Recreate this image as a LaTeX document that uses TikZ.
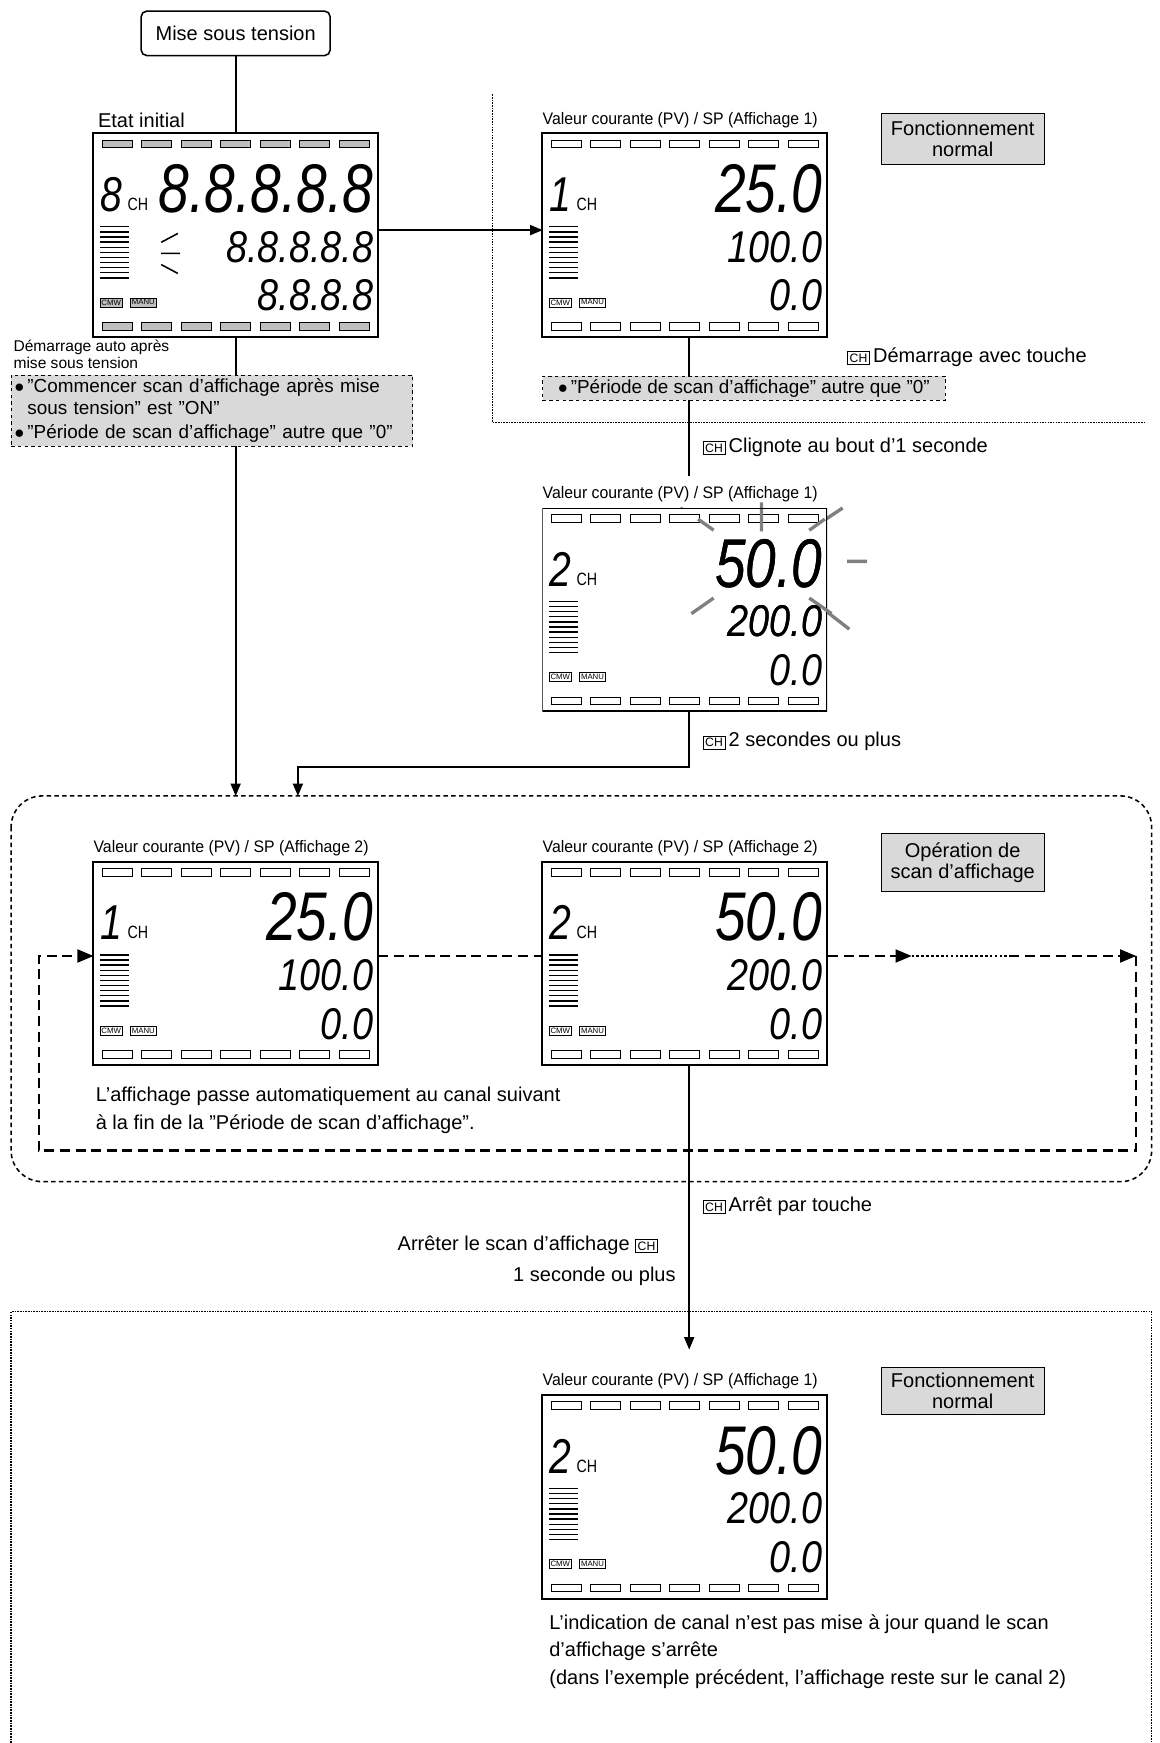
\documentclass[tikz,border=0pt]{standalone}
\usepackage{fontspec}
\setmainfont{Liberation Sans}[Ligatures=ResetAll]
\usetikzlibrary{calc,arrows}

\tikzset{
  lbl/.style={font=\fontsize{18}{21}\selectfont, inner sep=0pt},
  small lbl/.style={font=\fontsize{14}{15}\selectfont, inner sep=0pt},
  gray box/.style={draw, fill=gray!30, font=\fontsize{18}{19}\selectfont, align=center, inner sep=2pt},
  cond box/.style={draw, dashed, fill=gray!30, font=\fontsize{17}{20}\selectfont, align=left, inner sep=3pt},
  big digit/.style={font=\fontsize{62}{62}\selectfont\itshape, inner sep=0pt, xscale=0.8},
  mid digit/.style={font=\fontsize{40}{40}\selectfont\itshape, inner sep=0pt, xscale=0.85},
  tag/.style={draw, fill=#1, font=\fontsize{7}{8}\selectfont, inner sep=1.5pt},
  tag/.default=white,
  key/.style={draw, font=\fontsize{11}{12}\selectfont, inner sep=2pt},
  ray/.style={gray, line width=3pt},
  conn/.style={line width=1.6pt},
  loop/.style={line width=2.4pt, dash pattern=on 9pt off 5pt},
}

% LCD panel: x, y, channel, big, middle, small, tag fill
\newcommand\lcd[7]{%
  \begin{scope}[shift={(#1,#2)}]
    \draw[line width=1.8pt, fill=white] (0,0) rectangle (256,183);
    \foreach \i in {0,...,6} {
      \draw[fill=#7, line width=0.8pt] (8+\i*35.5,6) rectangle ++(27,7);
      \draw[fill=#7, line width=0.8pt] (8+\i*35.5,170) rectangle ++(27,7);
    }
    \foreach \j in {0,...,10} \draw[line width=1.2pt] (6,84+\j*4.6) -- ++(26,0);
    \node[big digit, font=\fontsize{44}{44}\selectfont\itshape] at (16,55) {#3};
    \node[font=\fontsize{16}{16}\selectfont, xscale=0.8] at (40,64) {CH};
    \node[big digit, anchor=east] at (252,50) {#4};
    \node[mid digit, anchor=east] at (252,102) {#5};
    \node[mid digit, anchor=east] at (252,146) {#6};
    \node[tag=#7] at (16,152) {CMW};
    \node[tag=#7] at (45,152) {MANU};
  \end{scope}}

\begin{document}
\begin{tikzpicture}[x=1pt,y=-1pt]
\useasboundingbox (0,0) rectangle (1043,1568);

% regions
\draw[dash pattern=on 4pt off 3pt, line width=1.4pt, rounded corners=28pt] (10,716) rectangle (1036,1063);
\draw[densely dotted, line width=1.4pt] (443,85) -- (443,380) -- (1030,380);
\draw[densely dotted, line width=1.4pt] (10,1568) -- (10,1180) -- (1036,1180) -- (1036,1568);

% start
\node[draw, rounded corners=5pt, line width=1.4pt, minimum width=170pt, minimum height=40pt, font=\fontsize{18}{20}\selectfont] (start) at (212,30) {Mise sous tension};

% connectors
\coordinate (init) at (212,120);
\coordinate (initB) at (212,303);
\draw[conn] (start.south) -- (init);
\draw[conn, -triangle 45] (340,207) -- (488,207);
\draw[conn, -triangle 45] (initB) -- (212,716);
\draw[conn] (620,303) -- (620,428);
\draw[conn, -triangle 45] (620,640) -- (620,690) -- (268,690) -- (268,716);
\draw[conn, -triangle 45] (620,958) -- (620,1214);

% blinking rays
\draw[ray] (685,452) -- (685,478) (593,505) -- (607,505) (762,505) -- (780,505)
  (612,457) -- (642,477) (758,457) -- (728,477) (606,566) -- (642,538) (764,566) -- (728,538);

% displays
\lcd{84}{120}{8}{8.8.8.8.8}{8.8.8.8.8}{8.8.8.8}{gray!50}
\draw[line width=1.4pt] (145,218) -- (160,210) (145,228) -- (162,228) (145,238) -- (160,246);
\lcd{488}{120}{1}{25.0}{100.0}{0.0}{white}
\begin{scope}
\clip (488,457) rectangle (744,640);
\lcd{488}{457}{2}{50.0}{200.0}{0.0}{white}
\end{scope}
\draw[ray] (685,458) -- (685,478) (628,467) -- (642,477) (742,467) -- (728,477) (622,552) -- (642,538) (748,552) -- (728,538);
\node[big digit, anchor=east] at (740,507) {50.0};
\node[mid digit, anchor=east] at (740,559) {200.0};
\lcd{84}{775}{1}{25.0}{100.0}{0.0}{white}
\lcd{488}{775}{2}{50.0}{200.0}{0.0}{white}
\lcd{488}{1255}{2}{50.0}{200.0}{0.0}{white}

% titles
\node[lbl, anchor=south west] (t0) at (88,115) {Etat initial};
\foreach \x/\y/\n in {488/115/1, 488/452/1, 84/770/2, 488/770/2, 488/1250/1}
  \node[small lbl, anchor=south west, font=\fontsize{15}{16}\selectfont, xscale=0.95] at (\x,\y) {Valeur courante (PV) / SP (Affichage \n)};

\node[gray box, minimum width=147pt, minimum height=46pt] (fn1) at (866,125) {Fonctionnement\\normal};
\node[gray box, minimum width=147pt, minimum height=52pt] (scan) at (866,776) {Opération de\\scan d'affichage};
\node[gray box, minimum width=147pt, minimum height=42pt] (fn2) at (866,1251) {Fonctionnement\\normal};

% conditions
\node[small lbl, anchor=north west, align=left] (auto) at (12,306) {Démarrage auto après\\mise sous tension};
\node[cond box, anchor=north west, text width=355pt] (cond1) at (10,337)
  {$\bullet$\,"Commencer scan d'affichage après mise\\\phantom{$\bullet$\,}sous tension" est "ON"\\[2pt]$\bullet$\,"Période de scan d'affichage" autre que "0"};
\node[cond box, anchor=north west, minimum width=362pt] (cond2) at (488,338) {$\bullet$\,"Période de scan d'affichage" autre que "0"};

% scan loop
\draw[loop] (340,860) -- (488,860);
\draw[loop, -triangle 45] (745,860) -- (820,860);
\draw[dotted, line width=2.4pt] (820,860) -- (908,860);
\draw[loop, -triangle 45] (908,860) -- (1022,860);
\draw[loop, -triangle 45] (1022,860) -- (1022,1035) -- (35,1035) -- (35,860) -- (84,860);

% key labels
\node[lbl, anchor=west] (k1) at (762,321) {\tikz[baseline]\node[key,anchor=base]{CH};\,Démarrage avec touche};
\node[lbl, anchor=west] (k2) at (632,402) {\tikz[baseline]\node[key,anchor=base]{CH};\,Clignote au bout d'1 seconde};
\node[lbl, anchor=west] (k3) at (632,667) {\tikz[baseline]\node[key,anchor=base]{CH};\,2 secondes ou plus};
\node[lbl, anchor=west] (k4) at (632,1085) {\tikz[baseline]\node[key,anchor=base]{CH};\,Arrêt par touche};
\node[lbl, anchor=east] (k5) at (592,1120) {Arrêter le scan d'affichage \tikz[baseline]\node[key,anchor=base]{CH};};
\node[lbl, anchor=east] (k6) at (608,1148) {1 seconde ou plus};

\node[lbl, anchor=north west, align=left] (note1) at (86,978) {L'affichage passe automatiquement au canal suivant\\[4pt]à la fin de la "Période de scan d'affichage".};
\node[lbl, anchor=north west, align=left] (note2) at (494,1452) {L'indication de canal n'est pas mise à jour quand le scan\\[4pt]d'affichage s'arrête\\[4pt](dans l'exemple précédent, l'affichage reste sur le canal 2)};
\end{tikzpicture}
\end{document}
